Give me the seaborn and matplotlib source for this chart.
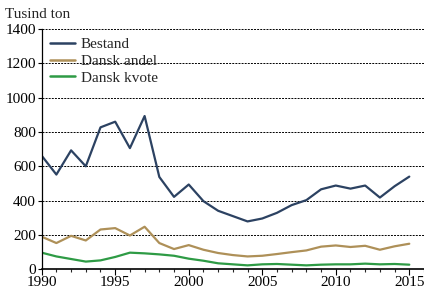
import pandas as pd
import seaborn as sns
import matplotlib.pyplot as plt
from matplotlib.ticker import MultipleLocator

years = list(range(1990, 2016))
bestand = [662, 552, 693, 600, 827, 860, 706, 893, 538, 422, 494, 397, 341, 310, 279,
           296, 329, 374, 403, 466, 488, 470, 488, 418, 484, 540]
dansk_andel = [190, 153, 195, 168, 232, 240, 197, 248, 153, 118, 141, 114, 95, 83, 75,
               79, 89, 100, 110, 132, 139, 130, 137, 114, 134, 149]
dansk_kvote = [97, 75, 60, 45, 52, 72, 97, 93, 87, 79, 62, 50, 35, 29, 23,
               29, 31, 27, 23, 27, 29, 29, 33, 29, 31, 27]

series = ["Bestand", "Dansk andel", "Dansk kvote"]
colors = ["#2c4262", "#ae9058", "#2e9b45"]

df = pd.DataFrame({"År": years, series[0]: bestand, series[1]: dansk_andel, series[2]: dansk_kvote})
long = df.melt(id_vars="År", var_name="Serie", value_name="Værdi")

sns.set_style("white")
plt.rcParams["font.family"] = ["Liberation Serif", "DejaVu Serif"]

fig = plt.figure(figsize=(4.24, 2.92), dpi=100)
ax = fig.add_axes([0.0983, 0.0777, 0.9017, 0.823])

sns.lineplot(data=long, x="År", y="Værdi", hue="Serie", palette=colors,
             linewidth=1.6, ax=ax)

ax.set_xlim(1990, 2016)
ax.set_ylim(0, 1400)
ax.set_yticks(range(0, 1401, 200))
ax.set_xticks(range(1990, 2016, 5))
ax.xaxis.set_minor_locator(MultipleLocator(1))
ax.tick_params(axis="both", labelsize=11, colors="black", direction="out", pad=1)
ax.tick_params(axis="x", which="major", length=4, width=0.8, bottom=True)
ax.tick_params(axis="x", which="minor", length=2.5, width=0.8, bottom=True)
ax.tick_params(axis="y", which="major", length=3, width=0.8, left=True)

for y in range(200, 1401, 200):
    ax.axhline(y, color="black", linewidth=0.7, linestyle=(0, (2, 1.2)), zorder=0)

for s in ["top", "right"]:
    ax.spines[s].set_visible(False)
ax.spines["left"].set_color("black")
ax.spines["bottom"].set_color("black")
ax.spines["left"].set_linewidth(0.9)
ax.spines["bottom"].set_linewidth(1.2)

ax.set_xlabel("")
ax.set_ylabel("")

leg = ax.legend(loc="upper left", bbox_to_anchor=(0.006, 0.99), frameon=False,
                fontsize=11, handlelength=1.6, handletextpad=0.4,
                labelspacing=0.2, borderaxespad=0.0, borderpad=0.4)
for line in leg.get_lines():
    line.set_linewidth(1.8)

fig.text(0.012, 0.952, "Tusind ton", fontsize=11, ha="left", va="center")

fig.savefig("out.png", dpi=100)
